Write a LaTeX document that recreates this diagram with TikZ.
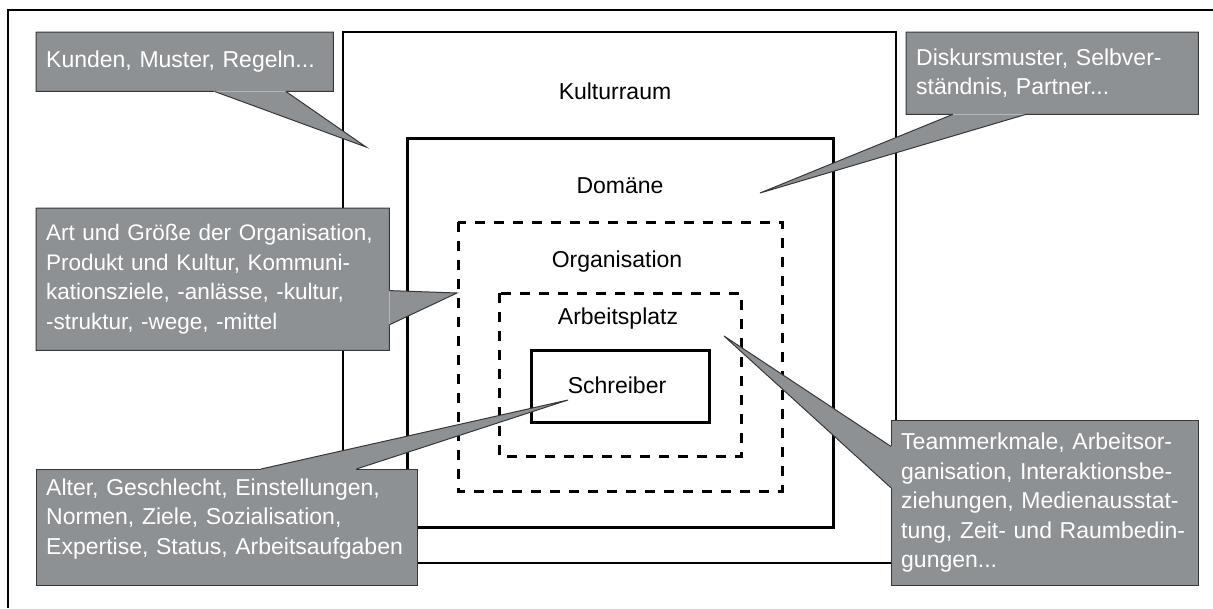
\documentclass[tikz,border=0pt]{standalone}
\usepackage{fontspec}
\setmainfont{Liberation Sans}
\usetikzlibrary{calc}
\definecolor{callgray}{RGB}{142,145,148}
\definecolor{calline}{RGB}{55,55,55}
\tikzset{
    frame/.style={draw, line width=3pt},
    dashframe/.style={draw, line width=3pt, dash pattern=on 10pt off 9pt},
    framelabel/.style={anchor=base, font=\fontsize{23}{29.5}\selectfont},
    callbox/.style={fill=callgray, text=white, anchor=north west, align=left,
        inner xsep=10pt, inner ysep=3pt, font=\fontsize{23}{29.5}\selectfont},
    calledge/.style={draw=calline, line width=1pt},
}

\begin{document}
\begin{tikzpicture}[x=1pt, y=-1pt]
    \useasboundingbox (0,0) rectangle (1213,608);
    \draw[line width=2.5pt] (8,608) -- (8,10) -- (1213,10);

    % nested frames
    \draw[frame, line width=2.4pt] (343,32) rectangle (896,563);
    \draw[frame] (407,138) rectangle (833,527);
    \draw[dashframe] (458,222) rectangle (782,491);
    \draw[dashframe] (499,293) rectangle (741,456);
    \draw[frame] (531,350) rectangle (709,422);

    \node[framelabel] (kulturlabel) at (615,99) {Kulturraum};
    \node[framelabel] (domaenelabel) at (620,193) {Domäne};
    \node[framelabel] (orglabel) at (617,267) {Organisation};
    \node[framelabel] (platzlabel) at (618,324) {Arbeitsplatz};
    \node[framelabel] (schreiberlabel) at (617,393) {Schreiber};

    % callouts
    \node[callbox, text width=277pt, minimum height=59pt] (kunden) at (36,32)
        {Kunden, Muster, Regeln...};
    \coordinate (kundenA) at ($(kunden.south west)!0.6!(kunden.south east)$);
    \coordinate (kundenB) at ($(kunden.south west)!0.84!(kunden.south east)$);
    \coordinate (kundenTip) at (366,147);
    \filldraw[calledge, fill=callgray] (kundenA) -- (kundenTip) -- (kundenB);
    \draw[calledge] (kundenA) -- (kunden.south west) -- (kunden.north west)
        -- (kunden.north east) -- (kunden.south east) -- (kundenB);

    \node[callbox, text width=272pt, minimum height=82pt] (diskurs) at (906,32)
        {Diskursmuster, Selbver-\\ständnis, Partner...};
    \coordinate (diskursA) at ($(diskurs.south west)!0.16!(diskurs.south east)$);
    \coordinate (diskursB) at ($(diskurs.south west)!0.41!(diskurs.south east)$);
    \coordinate (diskursTip) at (760,193);
    \filldraw[calledge, fill=callgray] (diskursA) -- (diskursTip) -- (diskursB);
    \draw[calledge] (diskursB) -- (diskurs.south east) -- (diskurs.north east)
        -- (diskurs.north west) -- (diskurs.south west) -- (diskursA);

    \node[callbox, text width=333pt, minimum height=142pt,
        font=\fontsize{22.5}{29.5}\selectfont] (art) at (36,208)
        {Art und Größe der Organisation,\\Produkt und Kultur, Kommuni-\\kationsziele, -anlässe, -kultur,\\-struktur, -wege, -mittel};
    \coordinate (artA) at ($(art.north east)!0.58!(art.south east)$);
    \coordinate (artB) at ($(art.north east)!0.82!(art.south east)$);
    \coordinate (artTip) at (457,293);
    \filldraw[calledge, fill=callgray] (artA) -- (artTip) -- (artB);
    \draw[calledge] (artA) -- (art.north east) -- (art.north west)
        -- (art.south west) -- (art.south east) -- (artB);

    \node[callbox, text width=361pt, minimum height=116pt, text depth=81pt] (alter) at (36,469)
        {Alter, Geschlecht, Einstellungen,\\Normen, Ziele, Sozialisation,\\Expertise, Status, Arbeitsaufgaben};
    \coordinate (alterA) at ($(alter.north west)!0.59!(alter.north east)$);
    \coordinate (alterB) at ($(alter.north west)!0.84!(alter.north east)$);
    \coordinate (alterTip) at (568,400);
    \filldraw[calledge, fill=callgray] (alterA) -- (alterTip) -- (alterB);
    \draw[calledge] (alterA) -- (alter.north west) -- (alter.south west)
        -- (alter.south east) -- (alter.north east) -- (alterB);

    \node[callbox, text width=287pt, minimum height=165pt] (team) at (891,420)
        {Teammerkmale, Arbeitsor-\\ganisation, Interaktionsbe-\\ziehungen, Medienausstat-\\tung, Zeit- und Raumbedin-\\gungen...};
    \coordinate (teamA) at ($(team.north west)!0.16!(team.south west)$);
    \coordinate (teamB) at ($(team.north west)!0.41!(team.south west)$);
    \coordinate (teamTip) at (724,336);
    \filldraw[calledge, fill=callgray] (teamA) -- (teamTip) -- (teamB);
    \draw[calledge] (teamA) -- (team.north west) -- (team.north east)
        -- (team.south east) -- (team.south west) -- (teamB);
\end{tikzpicture}
\end{document}
